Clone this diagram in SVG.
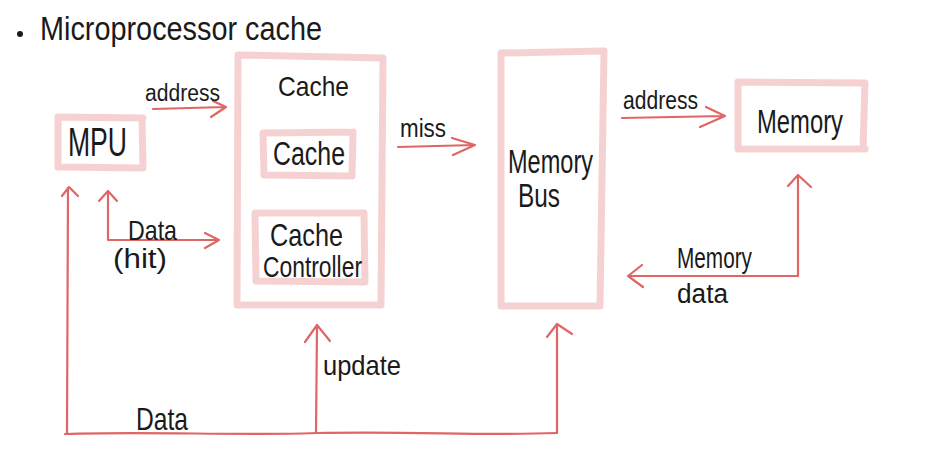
<svg xmlns="http://www.w3.org/2000/svg" width="937" height="472" viewBox="0 0 937 472">
<style>
.box{fill:none;stroke:#e06666;stroke-opacity:0.3;stroke-width:7;stroke-linecap:round}
.arr{fill:none;stroke:#e06666;stroke-width:2.2;stroke-linecap:round;stroke-linejoin:round}
.t{font-family:"Liberation Sans",Arial,sans-serif;fill:#1a1a1a}
</style>
<rect width="937" height="472" fill="#ffffff"/>
<g id="title">
<circle cx="20" cy="34" r="3" fill="#1a1a1a"/>
<text class="t" x="40" y="40" font-size="33" textLength="282" lengthAdjust="spacingAndGlyphs">Microprocessor cache</text>
</g>
<g id="mpu">
<path class="box" d="M58 117 L143 118 M142 118 L143 168 M58 167 L142 168 M58 117 L58 167"/>
<text class="t" x="68" y="156" font-size="40" textLength="59" lengthAdjust="spacingAndGlyphs">MPU</text>
</g>
<g id="cache-module">
<path class="box" d="M238 55 L383 58 M383 58 L381 305 M238 305 L381 305 M238 55 L237 305"/>
<text class="t" x="278" y="96" font-size="28" textLength="71" lengthAdjust="spacingAndGlyphs">Cache</text>
</g>
<g id="cache">
<path class="box" d="M263 133 L353 132 M353 132 L352 176 M264 175 L352 176 M263 133 L264 175"/>
<text class="t" x="273" y="165" font-size="33" textLength="72" lengthAdjust="spacingAndGlyphs">Cache</text>
</g>
<g id="cache-controller">
<path class="box" d="M255 213 L364 213 M364 213 L365 282 M256 281 L365 282 M255 213 L256 281"/>
<text class="t" x="270" y="246" font-size="32" textLength="73" lengthAdjust="spacingAndGlyphs">Cache</text>
<text class="t" x="263" y="277" font-size="30" textLength="99" lengthAdjust="spacingAndGlyphs">Controller</text>
</g>
<g id="memory-bus">
<path class="box" d="M502 53 L604 51 M604 51 L600 306 M501 306 L600 306 M501 53 L501 306"/>
<text class="t" x="508" y="173" font-size="34" textLength="85" lengthAdjust="spacingAndGlyphs">Memory</text>
<text class="t" x="518" y="207" font-size="33" textLength="42" lengthAdjust="spacingAndGlyphs">Bus</text>
</g>
<g id="memory">
<path class="box" d="M738 82 L865 83 M865 83 L863 149 M738 149 L865 149 M738 82 L738 149"/>
<text class="t" x="757" y="133" font-size="34" textLength="86" lengthAdjust="spacingAndGlyphs">Memory</text>
</g>
<g id="connectors">
<path class="arr" d="M153 109 L226 107 M213 101 L226 107 L211 117"/>
<path class="arr" d="M67 433 L68 188 M62 196 L69 187 L78 196"/>
<path class="arr" d="M108 240 L108 191 M99 201 L108 191 L117 201 M108 240 L219 240 M205 233 L219 240 L205 248"/>
<path class="arr" d="M398 147 L475 145 M452 138 L475 145 L453 155"/>
<path class="arr" d="M622 118 L725 116 M706 107 L725 116 L700 127"/>
<path class="arr" d="M798 276 L798 175 M788 186 L798 175 L811 187"/>
<path class="arr" d="M798 276 L628 276 M642 265 L628 276 L643 287"/>
<path class="arr" d="M65 434 C150 431 240 436 316 433 C420 431 480 436 557 433"/>
<path class="arr" d="M316 433 L317 326 M305 342 L317 325 L330 341"/>
<path class="arr" d="M557 433 L557 324 M547 337 L557 324 L572 334"/>
<text class="t" x="145" y="101" font-size="23" textLength="75" lengthAdjust="spacingAndGlyphs">address</text>
<text class="t" x="128" y="240" font-size="28" textLength="49" lengthAdjust="spacingAndGlyphs">Data</text>
<text class="t" x="113" y="268" font-size="27" textLength="54" lengthAdjust="spacingAndGlyphs">(hit)</text>
<text class="t" x="400" y="137" font-size="25" textLength="46" lengthAdjust="spacingAndGlyphs">miss</text>
<text class="t" x="623" y="109" font-size="25" textLength="75" lengthAdjust="spacingAndGlyphs">address</text>
<text class="t" x="677" y="268" font-size="29" textLength="75" lengthAdjust="spacingAndGlyphs">Memory</text>
<text class="t" x="677" y="303" font-size="27" textLength="51" lengthAdjust="spacingAndGlyphs">data</text>
<text class="t" x="323" y="375" font-size="28" textLength="78" lengthAdjust="spacingAndGlyphs">update</text>
<text class="t" x="136" y="430" font-size="32" textLength="52" lengthAdjust="spacingAndGlyphs">Data</text>
</g>
</svg>
